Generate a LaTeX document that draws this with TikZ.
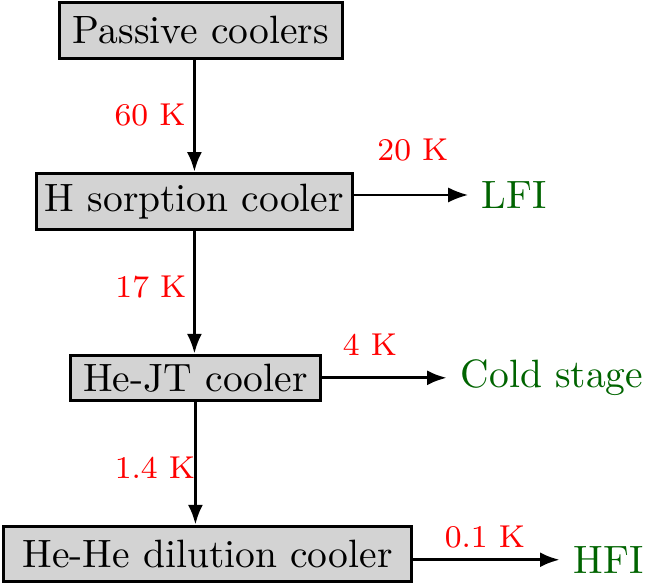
\documentclass[tikz,border=0pt]{standalone}
\usepackage{tikz}
\usetikzlibrary{arrows.meta}
\definecolor{boxgray}{RGB}{211,211,211}
\definecolor{stagegreen}{RGB}{0,100,0}

\begin{document}
\begin{tikzpicture}[
    cooler/.style={draw,thick,fill=boxgray,inner sep=0pt},
    temp/.style={red,font=\footnotesize,inner sep=0pt},
    target/.style={stagegreen,anchor=west},
    flow/.style={thick,-{Latex[length=5pt,width=3.8pt]}}]
    \useasboundingbox (0,0) rectangle (5.745,-5.2);

    \node[cooler,minimum width=2.515cm,minimum height=0.497cm] (passive) at (1.787,-0.271) {Passive coolers};
    \node[cooler,minimum width=2.81cm,minimum height=0.497cm] (hsorp) at (1.729,-1.791) {H sorption cooler};
    \node[cooler,minimum width=2.22cm,minimum height=0.40cm] (hejt) at (1.738,-3.360) {He-JT cooler};
    \node[cooler,minimum width=3.63cm,minimum height=0.49cm] (dilution) at (1.845,-4.925) {He-He dilution cooler};

    \node[target] (lfi) at (4.161,-1.734) {LFI};
    \node[target] (cold) at (3.974,-3.360) {Cold stage};
    \node[target] (hfi) at (4.978,-4.978) {HFI};

    \draw[flow] (passive.south -| hsorp.north) -- (hsorp.north);
    \draw[flow] (hsorp.south) -- (hsorp.south |- hejt.north);
    \draw[flow] (hejt.south) -- (hejt.south |- dilution.north);

    \draw[-{Latex[length=5pt,width=3.8pt]}] (lfi.west -| hsorp.east) -- (lfi.west);
    \draw[flow] (cold.west -| hejt.east) -- (cold.west);
    \draw[flow] (hfi.west -| dilution.east) -- (hfi.west);

    % temperatures
    \node[temp] (t60) at (1.334,-1.022) {60 K};
    \node[temp] (t17) at (1.342,-2.551) {17 K};
    \node[temp] (t14) at (1.378,-4.161) {1.4 K};
    \node[temp] (t20) at (3.672,-1.334) {20 K};
    \node[temp] (t4) at (3.289,-3.067) {4 K};
    \node[temp] (t01) at (4.312,-4.774) {0.1 K};
\end{tikzpicture}
\end{document}
